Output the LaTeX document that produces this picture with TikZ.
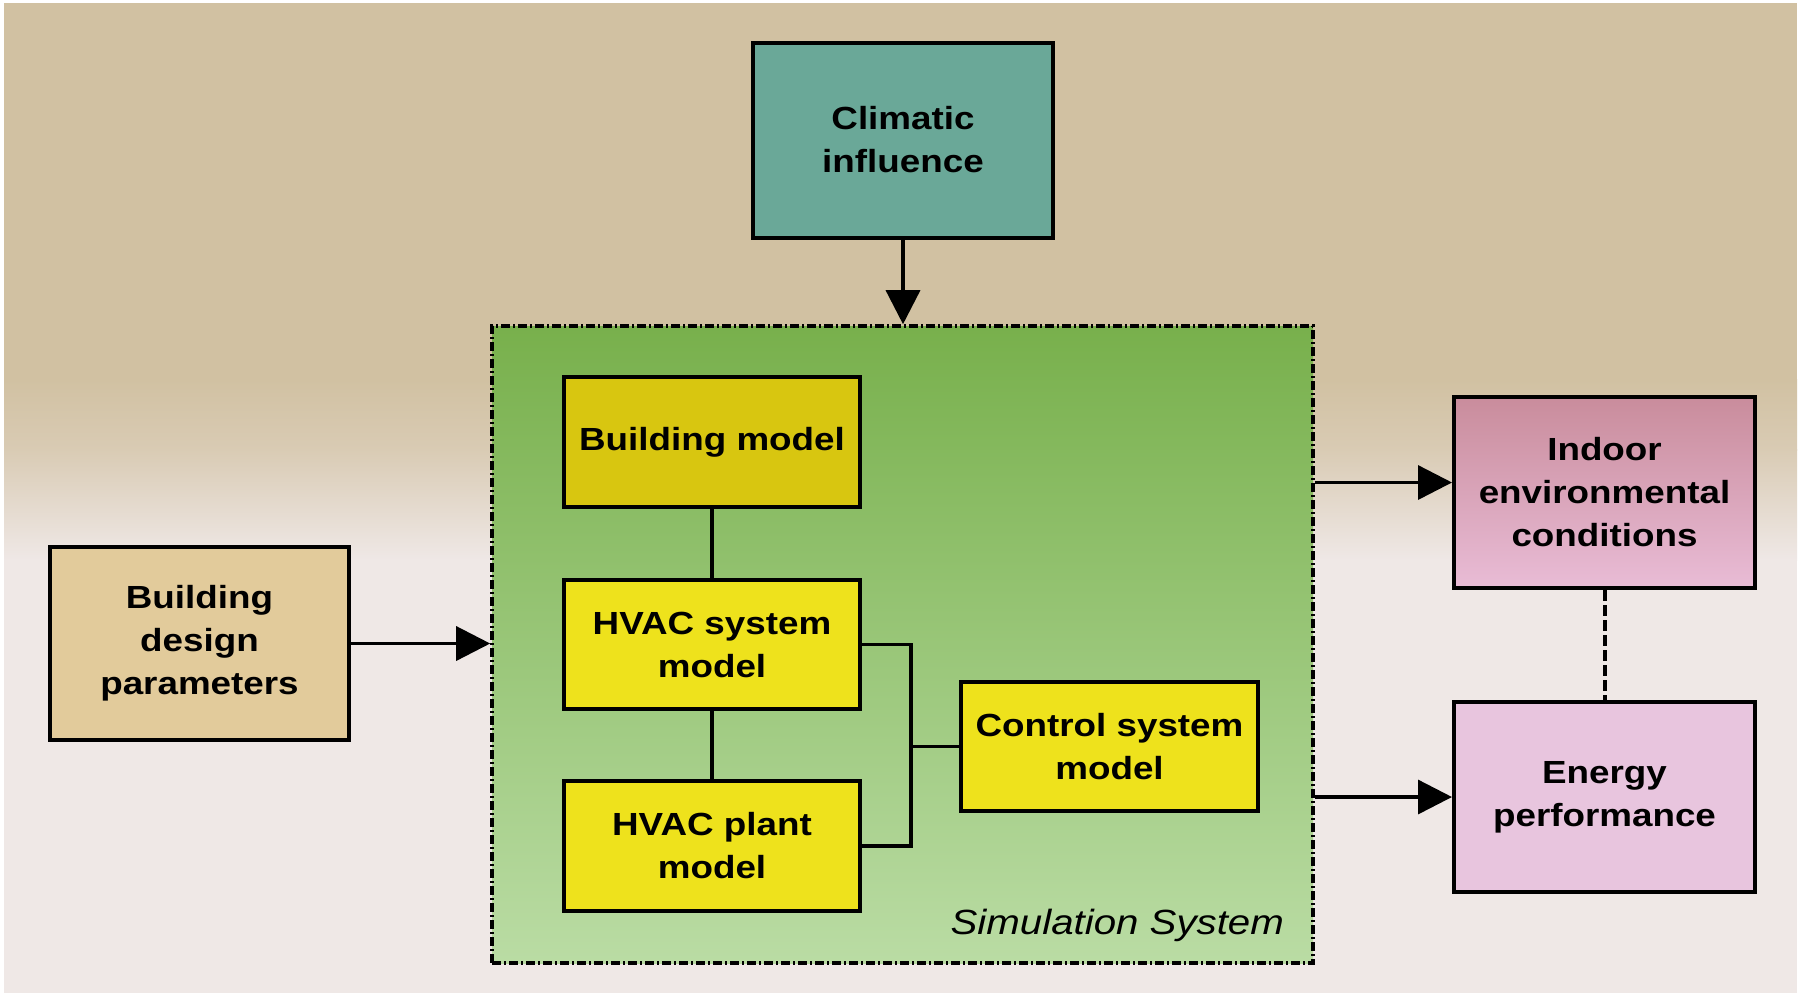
\documentclass[tikz,border=0pt]{standalone}
\usepackage{fontspec}
\setmainfont{Liberation Sans}[FakeStretch=1.15]
\usetikzlibrary{arrows.meta,calc}
\definecolor{bgtan}{HTML}{D1C1A2}
\definecolor{bgmid}{HTML}{D9CBB4}
\definecolor{bglight}{HTML}{EFE8E6}
\definecolor{climc}{HTML}{6AA898}
\definecolor{bdpc}{HTML}{E2CB9B}
\definecolor{bmc}{HTML}{D8C610}
\definecolor{yelc}{HTML}{EEE21C}
\definecolor{indtop}{HTML}{C98C9C}
\definecolor{indbot}{HTML}{E9BCD6}
\definecolor{enc}{HTML}{E8C5DE}
\definecolor{simtop}{HTML}{78B04C}
\definecolor{simmid}{HTML}{A7CF8C}
\definecolor{simbot}{HTML}{BADCA4}
\tikzset{
  box/.style={draw=black, line width=2pt, rectangle, inner sep=0pt, align=center,
    font=\fontsize{16pt}{21.5pt}\selectfont\bfseries},
  conn/.style={line width=1.7pt, draw=black},
  arr/.style={conn, -{Triangle[length=17pt,width=17pt]}},
  simframe/.style={draw=black, line width=1.8pt, rectangle, inner sep=0pt,
    dash pattern=on 4.5pt off 1.5pt on 1pt off 1.5pt},
}
\begin{document}
\begin{tikzpicture}[x=0.5pt,y=-0.5pt]
\useasboundingbox (0,0) rectangle (1804,993);
% background
\fill[white] (0,0) rectangle (1804,993);
\fill[bgtan] (4,3) rectangle (1797,380);
\shade[top color=bgtan, bottom color=bgmid] (4,379) rectangle (1797,450);
\shade[top color=bgmid, bottom color=bglight] (4,449) rectangle (1797,560);
\fill[bglight] (4,559) rectangle (1797,993);
% simulation frame
\node[simframe, shade, top color=simtop, middle color=simmid, bottom color=simbot,
  minimum width=410.5pt, minimum height=318.5pt] (sim) at (902.5,644.5) {};
\node[anchor=base east, font=\fontsize{17.5pt}{20pt}\selectfont\itshape] (simlab) at (1291,934) {Simulation System};
% nodes
\node[box, fill=climc, minimum width=150pt, minimum height=97.5pt] (clim) at (903,140) {Climatic\\influence};
\node[box, fill=bdpc, minimum width=149.5pt, minimum height=96.5pt] (bdp) at (199.5,643.5) {Building\\design\\parameters};
\node[box, fill=bmc, minimum width=148pt, minimum height=65pt] (bm) at (712,442) {Building model};
\node[box, fill=yelc, minimum width=148pt, minimum height=64.5pt] (hs) at (712,644.5) {HVAC system\\model};
\node[box, fill=yelc, minimum width=148pt, minimum height=65pt] (hp) at (712,846) {HVAC plant\\model};
\node[box, fill=yelc, minimum width=148.5pt, minimum height=64.5pt] (cs) at (1109.5,746.5) {Control system\\model};
\node[box, shade, top color=indtop, bottom color=indbot, minimum width=150.5pt, minimum height=95.5pt] (ind) at (1604.5,492.5) {Indoor\\environmental\\conditions};
\node[box, fill=enc, minimum width=150.5pt, minimum height=95pt] (en) at (1604.5,797) {Energy\\performance};
% connectors
\coordinate (bx) at (911,746.5);
\draw[arr] (clim.south) -- (clim.south |- sim.north);
\draw[arr] (bdp.east) -- (bdp.east -| sim.west);
\draw[arr] ([yshift=5pt]ind.west -| sim.east) -- ([yshift=5pt]ind.west);
\draw[arr] (en.west -| sim.east) -- (en.west);
\draw[conn] (bm.south) -- (hs.north);
\draw[conn] (hs.south) -- (hp.north);
\draw[conn] (hs.east) -| (bx) |- (hp.east);
\draw[conn] (bx) -- (cs.west);
\draw[conn, line width=2pt, dash pattern=on 5.5pt off 2pt] (ind.south) -- (en.north);
\end{tikzpicture}
\end{document}
